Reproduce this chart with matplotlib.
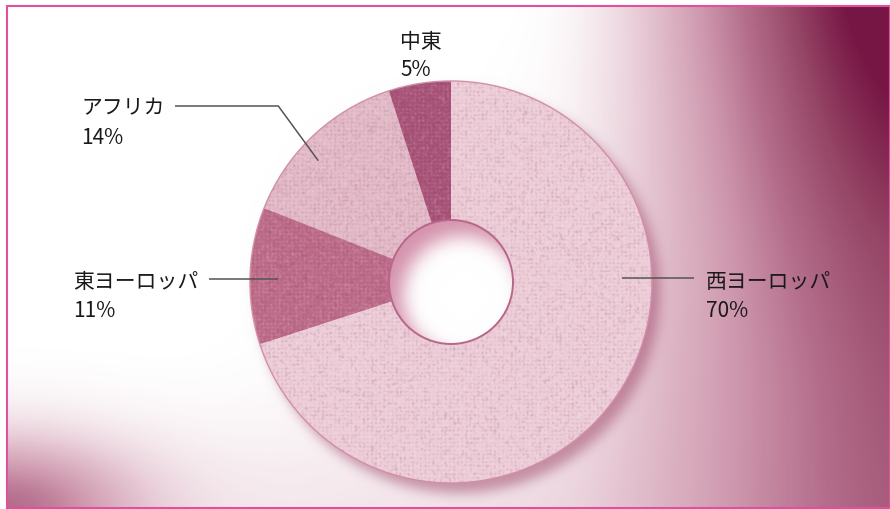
import numpy as np
import matplotlib
matplotlib.use("Agg")
import matplotlib.pyplot as plt
from matplotlib.patches import Wedge, Circle, Rectangle
from matplotlib.colors import LinearSegmentedColormap

plt.rcParams['font.family'] = ['Noto Sans CJK JP', 'DejaVu Sans']

# --- data ---------------------------------------------------------------
regions = ["西ヨーロッパ", "東ヨーロッパ", "アフリカ", "中東"]
shares = [70, 11, 14, 5]
share_labels = ["70%", "11%", "14%", "5%"]
slice_colors = ["#ecccd7", "#bd6c8a", "#e2b9c7", "#a9557a"]

# --- canvas geometry (pixel space, y measured from the top) ---------------
W, H = 890, 510
PCX, PCY = 451, 283          # donut centre
R_OUT, R_IN = 201, 62


def dy(v):
    """pixel row -> data y (data y grows upwards)"""
    return H - v


def blur(img, sigma):
    r = int(3 * sigma) + 1
    k = np.exp(-0.5 * (np.arange(-r, r + 1) / sigma) ** 2)
    k /= k.sum()
    p = np.pad(img, r, mode='edge')
    p = np.apply_along_axis(lambda m: np.convolve(m, k, mode='valid'), 0, p)
    p = np.apply_along_axis(lambda m: np.convolve(m, k, mode='valid'), 1, p)
    return p


yy, xx = np.mgrid[0:H, 0:W] + 0.5

# --- background: white spot fading to deep magenta towards the right ------
gx = [0, 200, 450, 560, 600, 650, 700, 750, 800, 850, 890]
gy = [0, 120, 250, 380, 510]
gt = np.array([
    [0.00, 0.00, 0.00, 0.00, 0.10, 0.24, 0.45, 0.62, 0.84, 1.05, 1.15],
    [0.00, 0.00, 0.00, 0.02, 0.11, 0.23, 0.40, 0.55, 0.74, 0.90, 1.00],
    [0.00, 0.00, 0.00, 0.05, 0.13, 0.24, 0.36, 0.49, 0.62, 0.74, 0.82],
    [0.00, 0.00, 0.04, 0.09, 0.16, 0.28, 0.37, 0.47, 0.56, 0.66, 0.74],
    [0.06, 0.09, 0.13, 0.17, 0.22, 0.30, 0.38, 0.48, 0.56, 0.64, 0.70],
])
rows = np.array([np.interp(xx[0], gx, r) for r in gt])
t = np.empty((H, W))
for j in range(W):
    t[:, j] = np.interp(yy[:, 0], gy, rows[:, j])
t = blur(t, 30)
# pink swath creeping in from the lower-left corner
t += 0.55 * np.exp(-(xx ** 2 / (2 * 95 ** 2) + (yy - 510) ** 2 / (2 * 50 ** 2)))
t = np.clip(t, 0, 1)

bg_cmap = LinearSegmentedColormap.from_list("bg", [
    (0.00, (1.0, 1.0, 1.0)),
    (0.12, (242 / 255, 227 / 255, 233 / 255)),
    (0.25, (228 / 255, 195 / 255, 208 / 255)),
    (0.45, (205 / 255, 150 / 255, 172 / 255)),
    (0.60, (180 / 255, 110 / 255, 140 / 255)),
    (0.80, (150 / 255, 70 / 255, 102 / 255)),
    (1.00, (118 / 255, 22 / 255, 68 / 255)),
])
bg = bg_cmap(t)[..., :3]

# soft drop shadow of the donut, falling down and to the right
disc = (np.hypot(xx - (PCX + 8), yy - (PCY + 10)) < R_OUT).astype(float)
s = blur(disc, 6)[..., None]
shadow_rgb = np.array([150, 60, 95]) / 255
bg = bg * (1 - 0.5 * s) + shadow_rgb * 0.5 * s

# floor of the donut hole with an inner shadow along its upper-left rim
d_hole = np.hypot(xx - PCX, yy - PCY)
outside = (np.hypot(xx - 12 - PCX, yy - 14 - PCY) > R_IN - 2).astype(float)
s2 = blur(outside, 9)[..., None]
hole_shade = np.array([205, 128, 158]) / 255
floor = np.ones_like(bg) * (1 - 0.85 * s2) + hole_shade * 0.85 * s2
inside = d_hole < R_IN + 2
bg[inside] = floor[inside]

# white margin outside the frame
margin = (xx < 6.5) | (yy < 6.5) | (yy > 508.5)
bg[margin] = 1.0

# --- figure ------------------------------------------------------------------
fig = plt.figure(figsize=(W / 100, H / 100), dpi=100)
ax = fig.add_axes([0, 0, 1, 1])
ax.imshow(bg, extent=(0, W, 0, H), origin='upper', interpolation='nearest', zorder=0)

wedges, _ = ax.pie(
    shares, colors=slice_colors, startangle=90, counterclock=False,
    radius=R_OUT, center=(PCX, dy(PCY)),
    wedgeprops=dict(width=R_OUT - R_IN, edgecolor='none', linewidth=0),
)
for w in wedges:
    w.set_zorder(2)

# woven canvas texture over the ring
rng = np.random.default_rng(11)
n = blur(rng.normal(size=(H, W)), 0.8)
n /= n.std()
tex = (0.6 * n + 0.45 * np.sin(2 * np.pi * xx / 4.1)
       + 0.45 * np.sin(2 * np.pi * yy / 3.9))
tex_rgba = np.zeros((H, W, 4))
tex_rgba[..., :3] = np.where(tex[..., None] > 0, 1.0, np.array([110, 30, 65]) / 255)
tex_rgba[..., 3] = np.clip(0.075 * np.abs(tex), 0, 0.2)
ring = Wedge((PCX, dy(PCY)), R_OUT, 0, 360, width=R_OUT - R_IN, transform=ax.transData)
tex_im = ax.imshow(tex_rgba, extent=(0, W, 0, H), origin='upper',
                   interpolation='nearest', zorder=3)
tex_im.set_clip_path(ring)

ax.add_patch(Circle((PCX, dy(PCY)), R_OUT, fill=False, ec='#d18fa8', lw=1.0, zorder=4))
ax.add_patch(Circle((PCX, dy(PCY)), R_IN, fill=False, ec='#b8678a', lw=1.4, zorder=4))

# frame
ax.add_patch(Rectangle((6.5, dy(508.5)), 883, 502, fill=False, ec='#e0509c', lw=1.5, zorder=5))

# --- labels and leader lines --------------------------------------------------
txt = dict(fontsize=15, color='#1a1a1a', ha='left', va='baseline', zorder=6)
label_pos = [(706, 288, 317), (73, 288, 317), (81, 114, 143.5), (400, 48, 76)]
for name, pct, (lx, b1, b2) in zip(regions, share_labels, label_pos):
    ax.text(lx, dy(b1), name, **txt)
    ax.text(lx, dy(b2), pct, **txt)

line = dict(color='#555555', lw=1.1, zorder=6, solid_capstyle='butt')
ax.plot([622, 694], [dy(279.3), dy(279.3)], **line)
ax.plot([209, 278], [dy(280), dy(280)], **line)
ax.plot([175, 278.3, 318.3], [dy(107), dy(107), dy(161.7)], **line)

ax.set_xlim(0, W)
ax.set_ylim(0, H)
ax.set_aspect('auto')
ax.set_axis_off()

fig.savefig('out.png', dpi=100)
